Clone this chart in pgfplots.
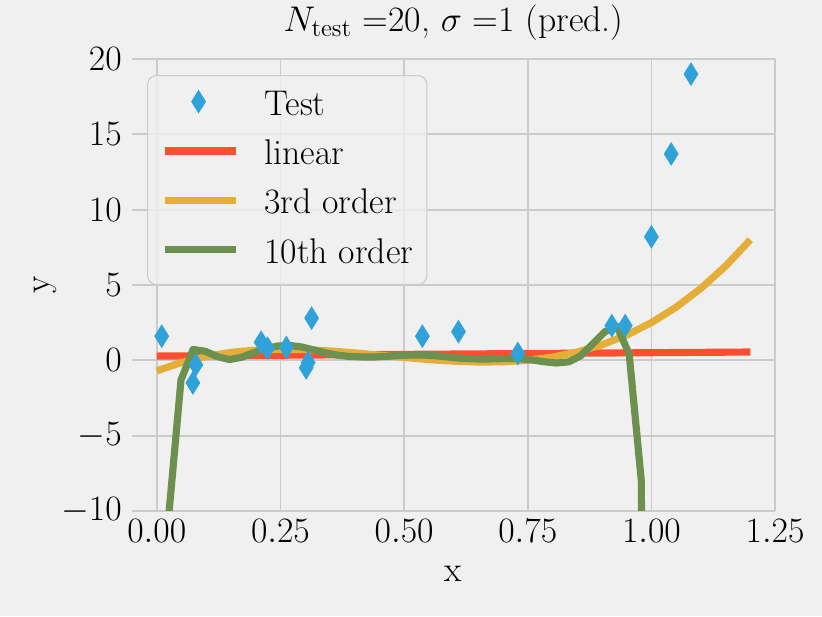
\RequirePackage{fix-cm}
\documentclass[border=0pt]{standalone}
\usepackage{fontspec}
\usepackage{pgfplots}
\pgfplotsset{compat=1.18}
\definecolor{bg}{HTML}{F0F0F0}
\definecolor{gridc}{HTML}{CBCBCB}
\definecolor{c1}{HTML}{30A2DA}
\definecolor{c2}{HTML}{FC4F30}
\definecolor{c3}{HTML}{E5AE38}
\definecolor{c4}{HTML}{6D904F}
\pgfdeclareplotmark{thind}{%
  \pgfpathmoveto{\pgfqpoint{0pt}{\pgfplotmarksize}}%
  \pgfpathlineto{\pgfqpoint{0.62\pgfplotmarksize}{0pt}}%
  \pgfpathlineto{\pgfqpoint{0pt}{-\pgfplotmarksize}}%
  \pgfpathlineto{\pgfqpoint{-0.62\pgfplotmarksize}{0pt}}%
  \pgfpathclose\pgfusepathqfill}
\newcommand{\bigf}{\fontsize{20}{24}\selectfont}
\pgfplotsset{
  linelegend/.style={legend image code/.code={\draw[##1, mark=none] (0pt,7.5pt) -- (40pt,7.5pt);}},
  diamondlegend/.style={legend image code/.code={\draw[##1] plot coordinates {(19pt,7.5pt)};}},
}
\begin{document}
\begin{tikzpicture}
\fill[bg] (-74pt,-58.9pt) rectangle (386.7pt,286.4pt);
\useasboundingbox (-74pt,-58.9pt) rectangle (386.7pt,286.4pt);
\begin{axis}[
  at={(0,0)}, anchor=south west,
  scale only axis, width=360.4pt, height=253.3pt,
  xmin=-0.05, xmax=1.25, ymin=-10, ymax=20,
  xtick={0,0.25,0.5,0.75,1,1.25},
  xticklabels={$0.00$,$0.25$,$0.50$,$0.75$,$1.00$,$1.25$},
  ytick={-10,-5,0,5,10,15,20},
  grid=major,
  major grid style={color=gridc, line width=1pt},
  axis line style={draw=none},
  major tick length=0pt,
  tick style={draw=none},
  axis background/.style={fill=bg},
  font=\bigf,
  tick label style={font=\bigf},
  xticklabel style={anchor=base, inner sep=0pt, yshift=-17.9pt},
  yticklabel style={anchor=east, inner sep=0pt, xshift=-5.6pt},
  title={$N_{\mathrm{test}}$ =20, $\sigma$ =1 (pred.)},
  title style={at={(axis description cs:0.5,1.0375)}, anchor=base, inner sep=0pt, font=\bigf},
  xlabel={x},
  xlabel style={at={(axis description cs:0.5,-0.157)}, anchor=base, inner sep=0pt, font=\bigf},
  ylabel={y},
  ylabel style={at={(axis description cs:-0.1276,0.5)}, anchor=base, inner sep=0pt, font=\bigf},
  legend style={
    at={(axis description cs:0.0233,0.9645)}, anchor=north west,
    fill=bg, fill opacity=0.8, text opacity=1, draw=gridc, draw opacity=1,
    line width=0.6pt, rounded corners=5pt,
    inner xsep=7.6pt, inner ysep=7.9pt,
    row sep=9.7pt, column sep=14pt,
    font=\bigf,
    nodes={inner sep=0pt, text height=14pt, text depth=4pt},
    cells={anchor=base west},
  },
  legend image post style={fill opacity=1, draw opacity=1},
]
\addplot[only marks, mark=thind, mark size=6.7pt, color=c1, fill=c1, diamondlegend]
  coordinates {
  (0.010,1.6) (0.073,-1.5) (0.079,-0.3) (0.211,1.2) (0.224,0.8)
  (0.262,0.85) (0.302,-0.5) (0.306,-0.15) (0.313,2.8) (0.537,1.6)
  (0.610,1.9) (0.730,0.45) (0.920,2.3) (0.947,2.3) (1.000,8.2)
  (1.040,13.7) (1.080,19.0)
  };
\addlegendentry{Test}
\addplot[color=c2, line width=4pt, linelegend] coordinates {(0,0.28) (1.2,0.55)};
\addlegendentry{linear}
\addplot[color=c3, line width=4pt, linelegend] coordinates {
  (0.00,-0.700) (0.05,-0.144) (0.10,0.258) (0.15,0.526) (0.20,0.677)
  (0.25,0.731) (0.30,0.705) (0.35,0.620) (0.40,0.493) (0.45,0.342)
  (0.50,0.188) (0.55,0.047) (0.60,-0.060) (0.65,-0.116) (0.70,-0.102)
  (0.75,0.001) (0.80,0.211) (0.85,0.548) (0.90,1.029) (0.95,1.674)
  (1.00,2.500) (1.05,3.527) (1.10,4.774) (1.15,6.258) (1.20,8.000)
  };
\addlegendentry{3rd order}
\addplot[color=c4, line width=4pt, line join=round, linelegend] coordinates {
  (0.0000,-300) (0.0245,-10.2) (0.0490,-1.3) (0.0735,0.72) (0.0980,0.6)
  (0.1224,0.25) (0.1469,0.05) (0.1714,0.2) (0.1959,0.5) (0.2204,0.78)
  (0.2449,0.95) (0.2694,0.98) (0.2939,0.88) (0.3184,0.68) (0.3429,0.48)
  (0.3673,0.33) (0.3918,0.25) (0.4163,0.22) (0.4408,0.22) (0.4653,0.26)
  (0.4898,0.32) (0.5143,0.35) (0.5388,0.35) (0.5633,0.30) (0.5878,0.22)
  (0.6122,0.14) (0.6367,0.10) (0.6612,0.08) (0.6857,0.10) (0.7102,0.12)
  (0.7347,0.10) (0.7592,0.02) (0.7837,-0.10) (0.8082,-0.18) (0.8327,-0.10)
  (0.8571,0.30) (0.8816,1.10) (0.9061,1.90) (0.9306,2.25) (0.9551,0.40)
  (0.9796,-8.0) (1.0041,-150)
  };
\addlegendentry{10th order}
\end{axis}
\end{tikzpicture}
\end{document}
